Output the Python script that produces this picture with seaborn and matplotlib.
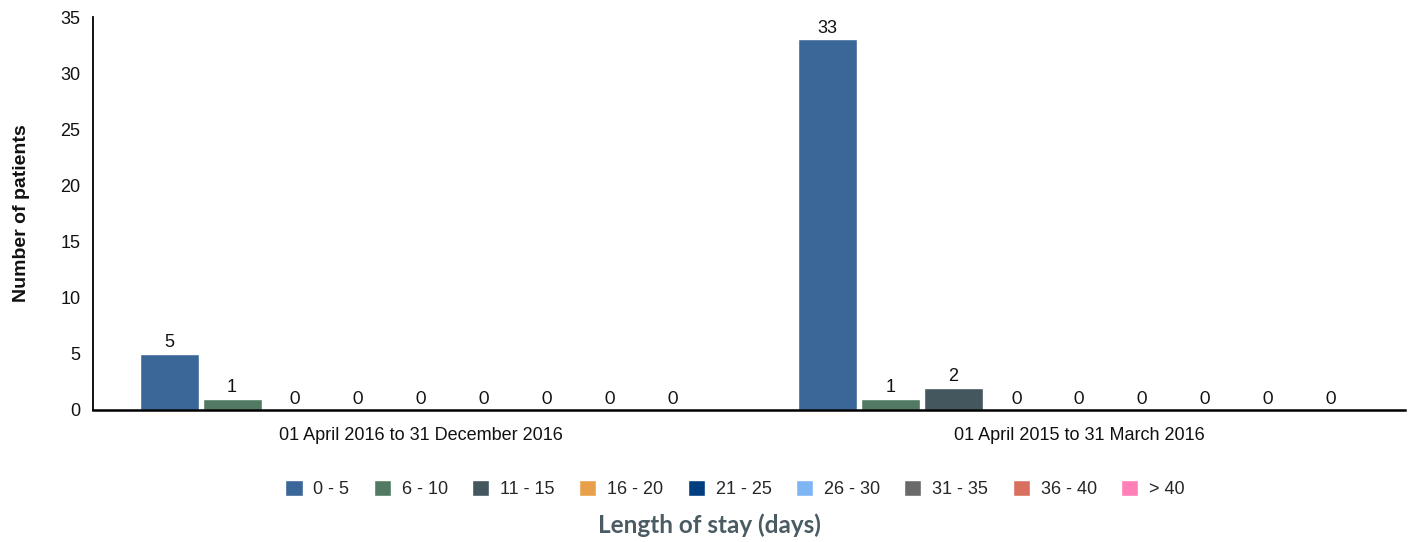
import matplotlib
matplotlib.use("Agg")
import matplotlib.pyplot as plt
import seaborn as sns
import pandas as pd

periods = ["01 April 2016 to 31 December 2016", "01 April 2015 to 31 March 2016"]
stay_bins = ["0 - 5", "6 - 10", "11 - 15", "16 - 20", "21 - 25", "26 - 30", "31 - 35", "36 - 40", "> 40"]
counts_2016 = [5, 1, 0, 0, 0, 0, 0, 0, 0]
counts_2015 = [33, 1, 2, 0, 0, 0, 0, 0, 0]
colors = ["#3A6797", "#527A62", "#44575E", "#E9A04B", "#003E80", "#7FB5F5", "#6A6A6A", "#D9705F", "#FF80B8"]

rows = []
for p, vals in zip(periods, [counts_2016, counts_2015]):
    for b, v in zip(stay_bins, vals):
        rows.append({"period": p, "stay": b, "count": v})
df = pd.DataFrame(rows)

sns.set_theme(style="white")
plt.rcParams["font.family"] = ["Liberation Sans", "DejaVu Sans"]

fig = plt.figure(figsize=(14.14, 5.42), dpi=100)
ax = fig.add_axes([93 / 1414, 1 - 410 / 542, (1405 - 93) / 1414, (410 - 17) / 542])

sns.barplot(data=df, x="period", y="count", hue="stay", order=periods, hue_order=stay_bins,
            palette=colors, width=0.86, gap=0.06, saturation=1, ax=ax, legend=True)

ax.set_xlim(-0.498, 1.495)
ax.set_ylim(0, 35)
ax.set_yticks(range(0, 36, 5))
ax.tick_params(axis="both", length=0, labelsize=13, colors="#111111")
ax.tick_params(axis="y", pad=9)
ax.tick_params(axis="x", pad=12)
for s in ["top", "right"]:
    ax.spines[s].set_visible(False)
ax.spines["left"].set_color("black")
ax.spines["left"].set_linewidth(1.3)
ax.spines["bottom"].set_color("black")
ax.spines["bottom"].set_linewidth(1.8)
ax.set_xlabel("")
ax.set_ylabel("Number of patients", fontsize=14, fontweight="bold", labelpad=22, color="#111111")

for cont in ax.containers:
    for bar in cont:
        h = bar.get_height()
        fam = ["Liberation Sans"] if h > 0 else ["Lato", "DejaVu Sans"]
        ax.annotate(f"{int(h)}", (bar.get_x() + bar.get_width() / 2, h), xytext=(0, 2),
                    textcoords="offset points", ha="center", va="bottom", fontsize=13,
                    family=fam, color="#111111")

handles, labels = ax.get_legend_handles_labels()
ax.legend(handles, labels, loc="center", bbox_to_anchor=(735 / 1414, (542 - 489) / 542), bbox_transform=fig.transFigure,
          ncol=9, frameon=False, fontsize=13, handlelength=0.95, handleheight=1.0,
          handletextpad=0.6, columnspacing=1.35)

fig.text(709 / 1414, 1 - 525 / 542, "Length of stay (days)", ha="center", va="center",
         fontsize=17.5, fontweight="bold", color="#4B5B63", family=["Lato", "DejaVu Sans"])

fig.savefig("out.png", dpi=100)
